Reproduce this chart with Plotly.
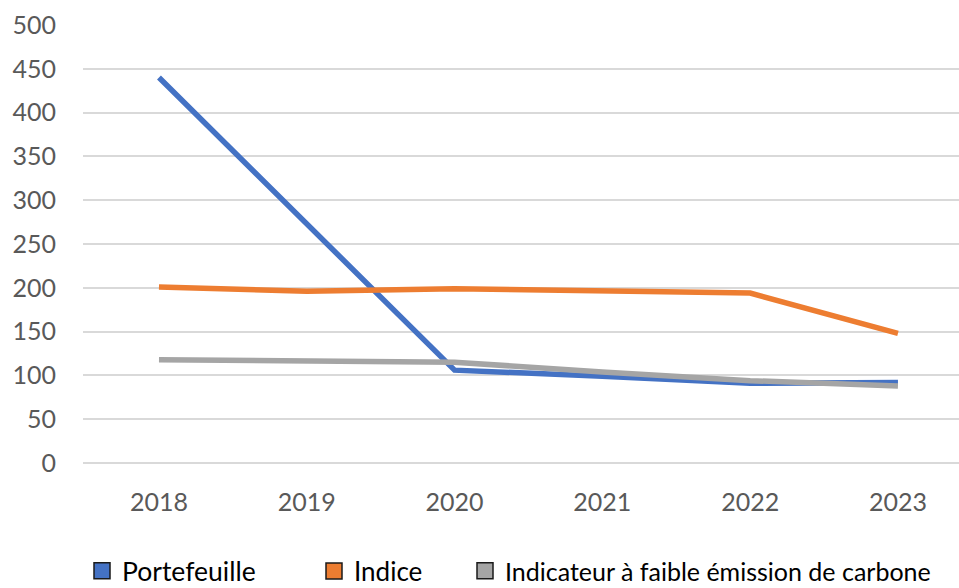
import plotly.graph_objects as go

years = ["2018", "2019", "2020", "2021", "2022", "2023"]
portefeuille = [440, 272, 106, 99, 91, 92]
indice = [201, 196, 199, 197, 194, 148]
indicateur = [118, 116, 115, 104, 94, 88]

series_names = ["Portefeuille", "Indice", "Indicateur à faible émission de carbone"]
series_values = [portefeuille, indice, indicateur]
colors = ["#4472C4", "#ED7D31", "#A5A5A5"]

y_ticks = [0, 50, 100, 150, 200, 250, 300, 350, 400, 450, 500]

FONT = "Lato"
W, H = 959, 588

fig = go.Figure()
for name, vals, col in zip(series_names, series_values, colors):
    fig.add_trace(go.Scatter(
        x=years, y=vals, mode="lines", name=name,
        line=dict(color=col, width=5.5),
        showlegend=False, hoverinfo="x+y+name",
    ))

# legend proxies (square swatches), one legend each for exact placement
legend_ids = ["legend", "legend2", "legend3"]
legend_left_px = [82, 314, 465]
legend_font_sizes = [26.5, 26, 25]
for name, col, lid in zip(series_names, colors, legend_ids):
    fig.add_trace(go.Scatter(
        x=[None], y=[None], mode="markers", name=name,
        marker=dict(symbol="square", size=16, color=col,
                    line=dict(color="#1a1a1a", width=1.5)),
        showlegend=True, legend=lid,
    ))

def legend_cfg(left, fsize):
    return dict(
        orientation="h", xref="container", yref="container",
        x=left / W, xanchor="left", y=17 / H, yanchor="middle",
        font=dict(family=FONT, size=fsize, color="#000000"),
        bgcolor="rgba(0,0,0,0)",
    )

fig.update_layout(
    width=W, height=H,
    margin=dict(l=83, r=0, t=25, b=125),
    paper_bgcolor="white", plot_bgcolor="white",
    font=dict(family=FONT, size=25, color="#595959"),
    showlegend=True,
    legend=legend_cfg(legend_left_px[0], legend_font_sizes[0]),
    legend2=legend_cfg(legend_left_px[1], legend_font_sizes[1]),
    legend3=legend_cfg(legend_left_px[2], legend_font_sizes[2]),
)
fig.update_xaxes(
    type="category", range=[-0.514, 5.413], automargin=False,
    showgrid=False, zeroline=False, showline=False,
    ticks="", ticklabelstandoff=22,
    tickfont=dict(family=FONT, size=25, color="#595959"),
)
fig.update_yaxes(
    range=[0, 500], tickvals=y_ticks, ticktext=[str(v) for v in y_ticks],
    automargin=False,
    showgrid=True, gridcolor="#D9D9D9", gridwidth=1.5,
    zeroline=True, zerolinecolor="#D9D9D9", zerolinewidth=1.5,
    showline=False, ticks="", ticklabelstandoff=26,
    tickfont=dict(family=FONT, size=25, color="#595959"),
)

fig.write_html("out.html",
               config={"displayModeBar": False},
               post_script="document.body.style.margin='0px';document.body.style.overflow='hidden';")
